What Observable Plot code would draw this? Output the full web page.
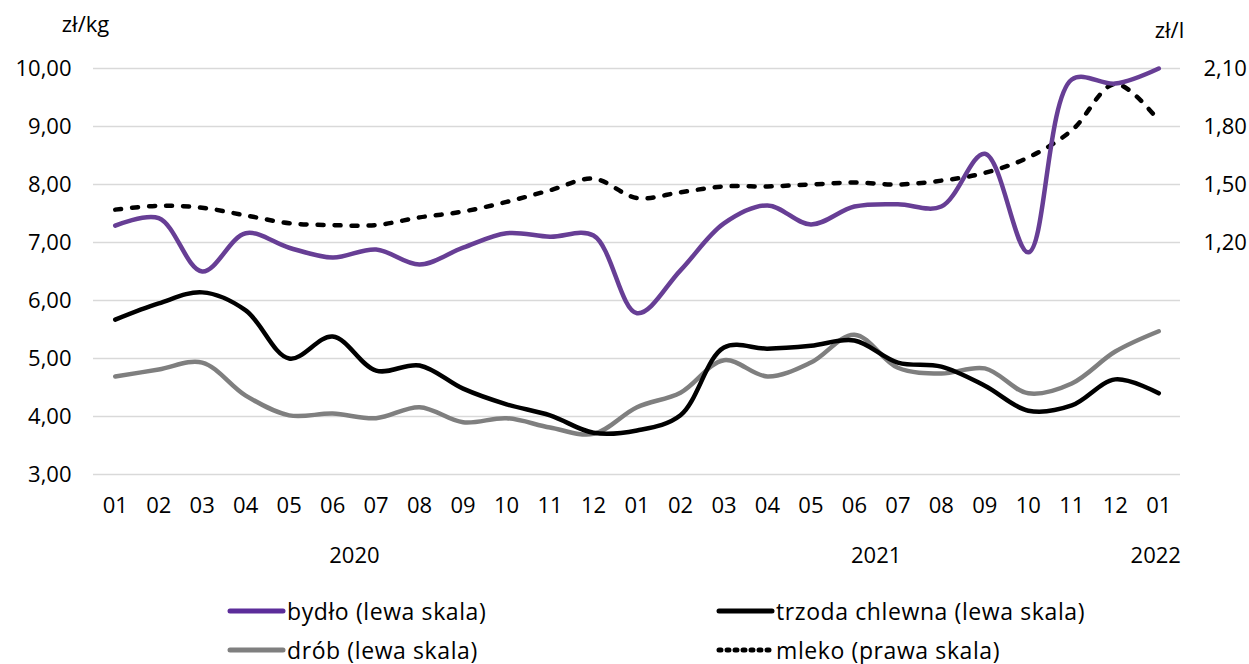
<!DOCTYPE html>
<html>
<head>
<meta charset="utf-8">
<script src="https://cdn.jsdelivr.net/npm/d3@7"></script>
<script src="https://cdn.jsdelivr.net/npm/@observablehq/plot@0.6"></script>
<style>
  body { margin: 0; background: #fff; font-family: "Open Sans", sans-serif; }
  #wrap { position: relative; width: 1249px; height: 664px; }
  .leg { position: absolute; font-size: 23px; letter-spacing: 0.6px; color: #000; white-space: nowrap; line-height: 22px; height: 22px; }
  .leg svg { position: absolute; }
</style>
</head>
<body>
<div id="wrap"></div>
<script>
const periods = ["2020-01","2020-02","2020-03","2020-04","2020-05","2020-06","2020-07","2020-08","2020-09","2020-10","2020-11","2020-12",
                 "2021-01","2021-02","2021-03","2021-04","2021-05","2021-06","2021-07","2021-08","2021-09","2021-10","2021-11","2021-12",
                 "2022-01"];
const bydlo  = [7.29,7.42,6.50,7.16,6.91,6.74,6.88,6.62,6.91,7.16,7.10,7.12,5.78,6.52,7.33,7.64,7.31,7.62,7.66,7.62,8.53,6.83,9.81,9.74,10.00];
const trzoda = [5.67,5.95,6.14,5.83,5.00,5.38,4.79,4.88,4.48,4.21,4.02,3.72,3.76,4.02,5.19,5.17,5.22,5.31,4.93,4.86,4.53,4.10,4.19,4.64,4.40];
const drob   = [4.69,4.81,4.93,4.36,4.02,4.05,3.97,4.16,3.90,3.97,3.81,3.70,4.16,4.41,4.97,4.69,4.93,5.41,4.84,4.74,4.83,4.40,4.57,5.12,5.47];
const mleko  = [1.37,1.39,1.38,1.34,1.30,1.29,1.29,1.33,1.36,1.41,1.47,1.53,1.43,1.46,1.49,1.49,1.50,1.51,1.50,1.52,1.56,1.64,1.78,2.02,1.83];
const leftTicks  = [3,4,5,6,7,8,9,10];
const rightTicks = [1.20,1.50,1.80,2.10];
const yearLabels = [{p:"2020-06", t:"2020"}, {p:"2021-06", t:"2021"}];
const yearLabelLast = [{p:"2022-01", t:"2022"}];

// dual-axis mapping: right (zł/l) -> left (zł/kg) scale
const toLeft  = r => (r + 0.9) / 0.3;
const toRight = l => 0.3 * l - 0.9;
const fmt = v => d3.format(".2f")(v).replace(".", ",");

const rows = (arr, f = v => v) => periods.map((p, i) => ({p, v: f(arr[i])}));

const colPurple = "#673e95", colGray = "#7f7f7f";

const chart = Plot.plot({
  width: 1249, height: 590,
  marginLeft: 93, marginRight: 69, marginTop: 68, marginBottom: 116,
  style: {fontFamily: "Open Sans", fontSize: "22px", color: "#000", background: "#fff"},
  x: {type: "point", domain: periods, padding: 0.5, round: false, label: null},
  y: {domain: [3, 10], label: null},
  marks: [
    Plot.gridY(leftTicks, {stroke: "#d9d9d9", strokeOpacity: 1, strokeWidth: 1.5}),
    Plot.axisY(leftTicks, {anchor: "left", tickSize: 0, tickPadding: 22, tickFormat: fmt, label: null}),
    Plot.axisY(rightTicks.map(toLeft), {anchor: "right", tickSize: 0, tickPadding: 23, tickFormat: d => fmt(toRight(d)), label: null}),
    Plot.axisX({tickSize: 0, tickPadding: 23, tickFormat: p => p.slice(5), label: null}),
    Plot.text(yearLabels, {x: "p", text: "t", frameAnchor: "bottom", lineAnchor: "middle", dy: 81, dx: 21.75}),
    Plot.text(yearLabelLast, {x: "p", text: "t", frameAnchor: "bottom", lineAnchor: "middle", dy: 81, dx: -3}),
    Plot.text(["zł/kg"], {frameAnchor: "top-left", lineAnchor: "middle", dx: -8, dy: -44, text: d => d, textAnchor: "middle"}),
    Plot.text(["zł/l"], {frameAnchor: "top-right", lineAnchor: "middle", dx: -11, dy: -38, text: d => d, textAnchor: "middle"}),
    Plot.line(rows(mleko, toLeft), {x: "p", y: "v", stroke: "#000", strokeWidth: 4.5, strokeDasharray: "6,11", strokeLinecap: "round", curve: "catmull-rom"}),
    Plot.line(rows(drob), {x: "p", y: "v", stroke: colGray, strokeWidth: 4.5, curve: "catmull-rom"}),
    Plot.line(rows(trzoda), {x: "p", y: "v", stroke: "#000", strokeWidth: 4.5, curve: "catmull-rom"}),
    Plot.line(rows(bydlo), {x: "p", y: "v", stroke: colPurple, strokeWidth: 4.5, curve: "catmull-rom"})
  ]
});
const wrap = document.getElementById("wrap");
wrap.appendChild(chart);

const legend = [
  {label: "bydło (lewa skala)", color: "#5c2d9a", dash: null, x: 227, y: 611},
  {label: "trzoda chlewna (lewa skala)", color: "#000", dash: null, x: 716, y: 611},
  {label: "drób (lewa skala)", color: colGray, dash: null, x: 227, y: 650},
  {label: "mleko (prawa skala)", color: "#000", dash: "2,6", x: 716, y: 650}
];
for (const it of legend) {
  const d = document.createElement("div");
  d.className = "leg";
  d.style.left = it.x + "px";
  d.style.top = (it.y - 11) + "px";
  d.style.paddingLeft = "60px";
  d.innerHTML = `<svg width="60" height="22" style="left:0;top:0"><line x1="3" x2="56" y1="11" y2="11" stroke="${it.color}" stroke-width="5" stroke-linecap="round" ${it.dash ? `stroke-dasharray="${it.dash}"` : ""}/></svg>${it.label}`;
  wrap.appendChild(d);
}
</script>
</body>
</html>
